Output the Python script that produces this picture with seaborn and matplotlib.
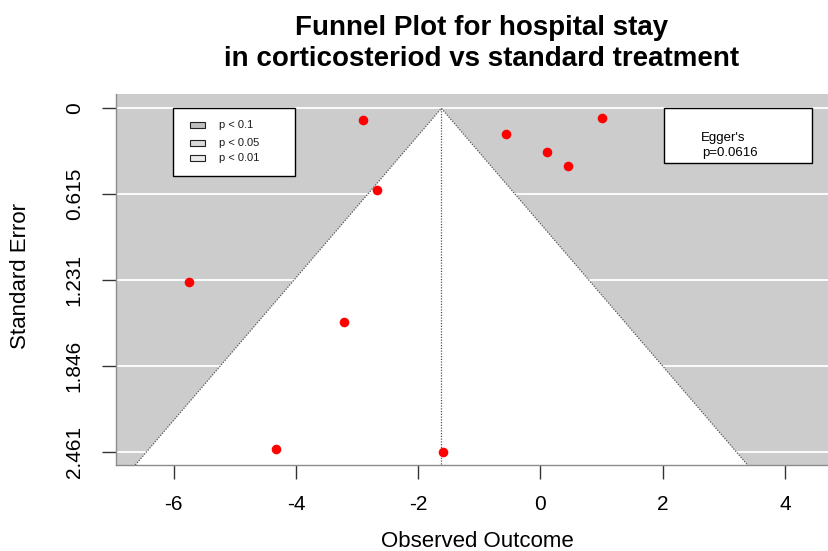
import matplotlib
matplotlib.use("Agg")
import matplotlib.pyplot as plt
import numpy as np
import pandas as pd
import seaborn as sns
from matplotlib.patches import Polygon, Rectangle

# Study-level estimates (observed outcome, standard error)
observed = [-2.91, -2.67, -0.57, 0.11, 0.45, 1.01, -5.75, -3.22, -4.32, -1.59]
std_error = [0.084, 0.586, 0.184, 0.311, 0.416, 0.070, 1.245, 1.532, 2.442, 2.461]

pooled_estimate = -1.62
z_crit = 1.96

x_ticks = [-6, -4, -2, 0, 2, 4]
y_ticks = [0, 0.615, 1.231, 1.846, 2.461]
y_tick_labels = ["0", "0.615", "1.231", "1.846", "2.461"]

legend_labels = ["p < 0.1", "p < 0.05", "p < 0.01"]
legend_fills = ["#BEBEBE", "#D9D9D9", "#EBEBEB"]
egger_p = "0.0616"

title = "Funnel Plot for hospital stay\nin corticosteriod vs standard treatment"

df = pd.DataFrame({"observed": observed, "se": std_error})

sns.set_style("white")
plt.rcParams["font.family"] = ["Liberation Sans", "DejaVu Sans"]
plt.rcParams["text.color"] = "black"
plt.rcParams["axes.labelcolor"] = "black"

fig = plt.figure(figsize=(8.29, 5.51), dpi=100)
W, H = 829, 551
left, right, top, bottom = 115.7, 849.0, 94.0, 465.0
ax = fig.add_axes([left / W, 1 - bottom / H, (right - left) / W, (bottom - top) / H])

xlim = (-6.95, 5.05)
ylim = (2.556, -0.1025)
ax.set_xlim(*xlim)
ax.set_ylim(*ylim)

grey = "#CCCCCC"
ax.set_facecolor(grey)

# horizontal reference lines (covered by the funnel region)
for yt in y_ticks:
    ax.axhline(yt, color="white", lw=1.3, zorder=1)

ybot = ylim[0]
half = z_crit * ybot
funnel = Polygon([(pooled_estimate - half, ybot), (pooled_estimate, 0),
                  (pooled_estimate + half, ybot)],
                 closed=True, facecolor="white", edgecolor="none", zorder=2)
ax.add_patch(funnel)

dot = (0, (1, 1.2))
ax.plot([pooled_estimate - half, pooled_estimate, pooled_estimate + half],
        [ybot, 0, ybot], color="#555555", lw=0.9, ls=dot, zorder=3)
ax.plot([pooled_estimate, pooled_estimate], [0, ybot],
        color="#555555", lw=0.9, ls=dot, zorder=3)

sns.scatterplot(data=df, x="observed", y="se", color="#FF0000", s=48,
                linewidth=0, ax=ax, zorder=5, legend=False)

# significance-contour key
ax.add_patch(Rectangle((-6.005, 0.0), 1.985, 0.483, facecolor="white",
                       edgecolor="black", lw=1.0, zorder=6))
for lab, fc, yc in zip(legend_labels, legend_fills, [0.122, 0.247, 0.358]):
    ax.add_patch(Rectangle((-5.74, yc - 0.022), 0.25, 0.044, facecolor=fc,
                           edgecolor="#222222", lw=0.8, zorder=7))
    ax.text(-5.26, yc, lab, fontsize=8, va="center", ha="left",
            color="#1a1a1a", zorder=7)

# Egger's regression test box
ax.add_patch(Rectangle((2.015, 0.0), 2.425, 0.394, facecolor="white",
                       edgecolor="black", lw=1.0, zorder=6))
ax.text(2.62, 0.213, "Egger's", fontsize=9.5, va="center", ha="left", zorder=7)
ax.text(2.65, 0.323, "p=" + egger_p, fontsize=9.5, va="center", ha="left", zorder=7)

ax.set_xticks(x_ticks)
ax.set_xticklabels([str(v) for v in x_ticks])
ax.set_yticks(y_ticks)
ax.set_yticklabels(y_tick_labels, rotation=90, va="center")

ax.tick_params(axis="both", which="both", length=10, width=1.0,
               color="#333333", labelsize=15, labelcolor="black",
               left=True, bottom=True)
ax.tick_params(axis="x", pad=11.5)
ax.tick_params(axis="y", pad=13)

for side in ["top", "right"]:
    ax.spines[side].set_visible(False)
for side in ["left", "bottom"]:
    ax.spines[side].set_color("#8C8C8C")
    ax.spines[side].set_linewidth(1.0)
ax.grid(False)

ax.set_xlabel("Observed Outcome", fontsize=16, color="black")
ax.set_ylabel("Standard Error", fontsize=16, color="black")
ax.xaxis.label.set_va("center")
ax.yaxis.label.set_va("center")
ax.xaxis.set_label_coords(0.4934, -0.2049)
ax.yaxis.set_label_coords(-0.1298, 0.509)

fig.text(482 / W, 1 - 43.5 / H, title, ha="center", va="center",
         fontsize=20, fontweight="bold", linespacing=1.24, color="black")

fig.savefig("out.png", dpi=100)
